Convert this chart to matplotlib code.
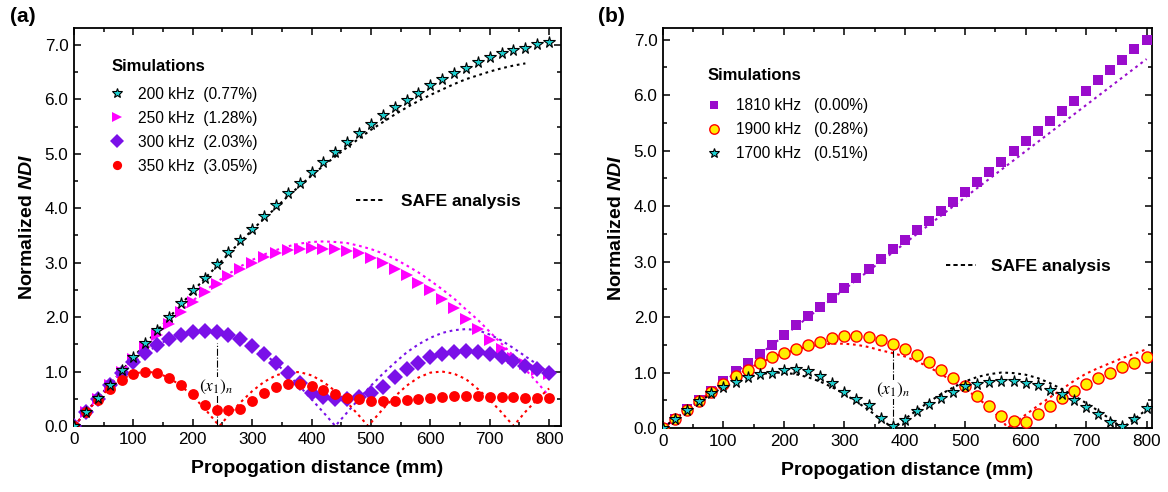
import numpy as np
import matplotlib
matplotlib.use('Agg')
import matplotlib.pyplot as plt
from matplotlib.lines import Line2D
from matplotlib.ticker import MultipleLocator, FormatStrFormatter

plt.rcParams['font.family'] = ['Liberation Sans', 'DejaVu Sans']
plt.rcParams['mathtext.fontset'] = 'custom'
plt.rcParams['mathtext.rm'] = 'Liberation Sans'
plt.rcParams['mathtext.it'] = 'Liberation Sans:italic'
plt.rcParams['mathtext.bf'] = 'Liberation Sans:bold'
plt.rcParams['mathtext.bfit'] = 'Liberation Sans:bold:italic'

# ---------------- data ----------------
dist = list(range(0, 801, 20))

# panel (a) simulations
sim_200 = [0, .25, .51, .76, 1.03, 1.27, 1.52, 1.77, 2.01, 2.26, 2.49, 2.72, 2.97, 3.2, 3.41,
           3.62, 3.85, 4.06, 4.28, 4.47, 4.66, 4.85, 5.04, 5.21, 5.39, 5.55, 5.71, 5.86, 5.99,
           6.12, 6.26, 6.38, 6.48, 6.58, 6.68, 6.77, 6.85, 6.91, 6.95, 7.02, 7.05]
sim_250 = [0, .25, .5, .75, .99, 1.23, 1.46, 1.68, 1.88, 2.1, 2.28, 2.46, 2.6, 2.75, 2.89, 3.0,
           3.1, 3.17, 3.23, 3.26, 3.27, 3.26, 3.25, 3.21, 3.17, 3.08, 3.0, 2.89, 2.77, 2.63,
           2.49, 2.33, 2.16, 1.97, 1.78, 1.58, 1.41, 1.25, 1.13, 1.03, .95]
sim_300 = [0, .25, .5, .75, .97, 1.17, 1.34, 1.48, 1.6, 1.68, 1.73, 1.75, 1.73, 1.68, 1.6, 1.47,
           1.33, 1.16, .97, .79, .61, .54, .5, .49, .54, .6, .72, .9, 1.04, 1.15, 1.26, 1.33,
           1.36, 1.38, 1.36, 1.33, 1.27, 1.19, 1.11, 1.04, .97]
sim_350 = [0, .25, .48, .68, .85, .95, 1.0, .97, .89, .76, .58, .39, .3, .29, .32, .46, .6, .72,
           .77, .77, .74, .66, .58, .52, .49, .46, .45, .45, .48, .49, .51, .53, .55, .56, .55,
           .54, .53, .53, .52, .52, .52]

# panel (a) SAFE analysis
safe_200_x = list(range(0, 761, 20))
safe_200 = [0, .25, .51, .76, 1.01, 1.26, 1.51, 1.75, 1.99, 2.23, 2.47, 2.71, 2.93, 3.16, 3.38,
            3.60, 3.81, 4.01, 4.22, 4.41, 4.60, 4.78, 4.95, 5.12, 5.28, 5.44, 5.58, 5.72, 5.85,
            5.97, 6.08, 6.18, 6.28, 6.37, 6.44, 6.51, 6.57, 6.62, 6.66]
safe_250 = [0, .25, .50, .75, .99, 1.23, 1.46, 1.69, 1.90, 2.10, 2.30, 2.48, 2.64, 2.79, 2.93,
            3.05, 3.15, 3.23, 3.30, 3.35, 3.38, 3.39, 3.38, 3.36, 3.31, 3.25, 3.17, 3.07, 2.95,
            2.82, 2.67, 2.51, 2.34, 2.14, 1.95, 1.73, 1.51, 1.29, 1.04, .80, .55]
safe_300 = [0, .25, .49, .73, .95, 1.15, 1.33, 1.48, 1.60, 1.69, 1.74, 1.76, 1.74, 1.69, 1.60,
            1.48, 1.33, 1.15, .95, .73, .49, .25, 0, .25, .5, .74, .96, 1.16, 1.35, 1.5, 1.62,
            1.71, 1.76, 1.78, 1.76, 1.68, 1.57, 1.43, 1.28, 1.13, .97]
safe_350_x = [0, 20, 40, 60, 80, 100, 120, 140, 160, 180, 200, 220, 240, 245, 260, 280, 300, 320,
              340, 360, 380, 400, 420, 440, 460, 480, 495, 500, 520, 540, 560, 580, 600, 620,
              640, 660, 680, 700, 720, 740, 760, 780, 800]
safe_350 = [0, .25, .49, .70, .86, .96, 1.0, .975, .885, .74, .55, .32, .06, 0, .19, .43, .64,
            .81, .93, .99, .99, .93, .81, .64, .43, .19, 0, .06, .31, .54, .74, .89, .98, 1.0,
            .96, .86, .68, .48, .25, 0, .26, .49, .69]

# panel (b) simulations
sim_1810 = [0, .17, .34, .5, .67, .84, 1.02, 1.18, 1.34, 1.5, 1.67, 1.85, 2.01, 2.19, 2.35, 2.53,
            2.7, 2.87, 3.05, 3.22, 3.39, 3.56, 3.73, 3.91, 4.08, 4.26, 4.44, 4.62, 4.8, 4.99,
            5.17, 5.35, 5.53, 5.71, 5.89, 6.07, 6.27, 6.45, 6.63, 6.83, 6.99]
sim_1900 = [0, .17, .33, .48, .65, .8, .93, 1.05, 1.18, 1.28, 1.36, 1.43, 1.49, 1.55, 1.62, 1.66,
            1.66, 1.64, 1.59, 1.51, 1.43, 1.31, 1.19, 1.05, .9, .75, .57, .39, .21, .13, .11,
            .26, .4, .54, .66, .79, .9, 1.0, 1.1, 1.17, 1.28]
sim_1700 = [0, .17, .33, .49, .63, .74, .83, .92, .97, 1.0, 1.05, 1.07, 1.02, .93, .81, .64, .52,
            .41, .18, .03, .15, .3, .43, .54, .64, .75, .79, .83, .85, .84, .82, .77, .69, .62,
            .5, .38, .25, .1, .03, .17, .36]

# panel (b) SAFE analysis
safe_1810_x = [0, 100, 200, 300, 400, 500, 600, 700, 800]
safe_1810 = [0, .83, 1.66, 2.5, 3.33, 4.16, 4.99, 5.82, 6.65]
safe_1900_x = [0, 20, 40, 60, 80, 100, 120, 140, 160, 180, 200, 220, 240, 260, 280, 300, 320, 340,
               360, 380, 400, 420, 440, 460, 480, 500, 520, 540, 560, 570, 580, 600, 620, 640,
               660, 680, 700, 720, 740, 760, 780, 800]
safe_1900 = [0, .17, .33, .49, .65, .80, .94, 1.07, 1.17, 1.27, 1.35, 1.41, 1.47, 1.5, 1.52, 1.52,
             1.5, 1.46, 1.40, 1.35, 1.29, 1.2, 1.1, .97, .84, .7, .55, .36, .16, 0, .08, .24, .40,
             .55, .70, .85, .98, 1.08, 1.17, 1.26, 1.34, 1.42]
safe_1700 = [0, .165, .325, .475, .614, .735, .837, .915, .969, .997, .997, .969, .915, .837, .735,
             .614, .475, .325, .165, 0, .16, .32, .47, .61, .73, .84, .92, .97, 1.0, .99, .96,
             .90, .81, .70, .58, .45, .31, .16, 0, .165, .33]

labels_a = ['200 kHz  (0.77%)', '250 kHz  (1.28%)', '300 kHz  (2.03%)', '350 kHz  (3.05%)']
labels_b = ['1810 kHz   (0.00%)', '1900 kHz   (0.28%)', '1700 kHz   (0.51%)']
xticks = [0, 100, 200, 300, 400, 500, 600, 700, 800]
yticks = [0.0, 1.0, 2.0, 3.0, 4.0, 5.0, 6.0, 7.0]

# ---------------- styles ----------------
CYAN = '#1fd0d0'
MAG = '#ff00ff'
PURP = '#7a10e8'
RED = '#ff0000'
VIOL = '#9a0ccc'
dot = (0, (1.3, 1.8))

fig = plt.figure(figsize=(11.68, 4.92), dpi=100)
axa = fig.add_axes([74 / 1168, 66 / 492, 487 / 1168, 398 / 492])
axb = fig.add_axes([663 / 1168, 64 / 492, 489 / 1168, 400 / 492])


def style_axis(ax, xmax, ymax):
    ax.set_xlim(0, xmax)
    ax.set_ylim(0, ymax)
    ax.set_xticks(xticks)
    ax.set_yticks(yticks)
    ax.xaxis.set_minor_locator(MultipleLocator(50))
    ax.yaxis.set_minor_locator(MultipleLocator(0.5))
    ax.yaxis.set_major_formatter(FormatStrFormatter('%.1f'))
    ax.tick_params(which='both', direction='in', top=True, right=True, width=1.1,
                   labelsize=12.3, pad=4)
    ax.tick_params(which='major', length=5)
    ax.tick_params(which='minor', length=3)
    for s in ax.spines.values():
        s.set_linewidth(1.3)
    ax.set_xlabel('Propogation distance (mm)', fontsize=14, fontweight='bold', labelpad=10)
    ax.set_ylabel(r'Normalized $\mathbfit{NDI}$', fontsize=14, fontweight='bold', labelpad=6)


def sim_legend(ax, handles, title_xy, leg_xy, hl):
    ax.text(title_xy[0], title_xy[1], 'Simulations', transform=ax.transAxes, ha='left',
            va='center', fontsize=12, fontweight='bold')
    leg = ax.legend(handles=handles, loc='upper left', bbox_to_anchor=leg_xy,
                    frameon=False, fontsize=11.2, borderpad=0, borderaxespad=0,
                    handlelength=hl, handletextpad=1.05, labelspacing=0.58,
                    markerscale=0.85)
    ax.add_artist(leg)


def safe_legend(ax, xy):
    safe_h = Line2D([], [], color='black', lw=1.4, ls=(0, (2.2, 1.6)))
    ax.legend(handles=[safe_h], labels=['SAFE analysis'], loc='center left',
              bbox_to_anchor=xy, frameon=False, borderpad=0, borderaxespad=0,
              handlelength=1.7, handletextpad=0.9, prop={'weight': 'bold', 'size': 12.5})


# ---- panel (a) ----
ax = axa
ax.plot(safe_200_x, safe_200, color='black', lw=1.5, ls=dot, zorder=2)
ax.plot(dist, safe_250, color=MAG, lw=1.5, ls=dot, zorder=2)
ax.plot(dist, safe_300, color=PURP, lw=1.5, ls=dot, zorder=2)
ax.plot(safe_350_x, safe_350, color=RED, lw=1.5, ls=dot, zorder=2)

h1, = ax.plot(dist, sim_200, ls='none', marker='*', ms=8.5, mfc=CYAN, mec='black', mew=0.8,
              label=labels_a[0], zorder=6)
h2, = ax.plot(dist, sim_250, ls='none', marker='>', ms=8, mfc=MAG, mec=MAG, mew=0,
              label=labels_a[1], zorder=4)
h3, = ax.plot(dist, sim_300, ls='none', marker='D', ms=7.8, mfc=PURP, mec=PURP, mew=0,
              label=labels_a[2], zorder=4)
h4, = ax.plot(dist, sim_350, ls='none', marker='o', ms=7.8, mfc=RED, mec=RED, mew=0,
              label=labels_a[3], zorder=5)
ax.plot([240, 240], [0, 1.52], color='black', lw=0.8, ls='-.', zorder=3)
ax.text(240, 0.72, r'$(x_1)_n$', math_fontfamily='stix', fontsize=12.5, ha='center',
        va='center', zorder=3.5, bbox=dict(fc='white', ec='none', pad=0.3))
style_axis(ax, 820, 7.31)
sim_legend(ax, [h1, h2, h3, h4], (0.0774, 0.9028), (0.0774, 0.8525), 0.65)
safe_legend(ax, (0.579, 0.5636))
fig.text(10 / 1168, 1 - 17 / 492, '(a)', fontsize=15, fontweight='bold', va='center')

# ---- panel (b) ----
ax = axb
ax.plot(safe_1810_x, safe_1810, color=VIOL, lw=1.5, ls=dot, zorder=2)
ax.plot(safe_1900_x, safe_1900, color=RED, lw=1.5, ls=dot, zorder=2)
ax.plot(dist, safe_1700, color='black', lw=1.5, ls=dot, zorder=2)
g1, = ax.plot(dist, sim_1810, ls='none', marker='s', ms=7, mfc=VIOL, mec=VIOL, mew=0,
              label=labels_b[0], zorder=4)
g2, = ax.plot(dist, sim_1900, ls='none', marker='o', ms=8, mfc='#ffee00', mec=RED, mew=1.0,
              label=labels_b[1], zorder=5)
g3, = ax.plot(dist, sim_1700, ls='none', marker='*', ms=8.5, mfc=CYAN, mec='black', mew=0.8,
              label=labels_b[2], zorder=6)
ax.plot([380, 380], [0, 1.49], color='black', lw=0.8, ls='-.', zorder=3)
ax.text(380, 0.69, r'$(x_1)_n$', math_fontfamily='stix', fontsize=12.5, ha='center',
        va='center', zorder=3.5, bbox=dict(fc='white', ec='none', pad=0.3))
style_axis(ax, 809, 7.21)
sim_legend(ax, [g1, g2, g3], (0.092, 0.8825), (0.092, 0.8248), 0.77)
safe_legend(ax, (0.579, 0.405))
fig.text(598 / 1168, 1 - 17 / 492, '(b)', fontsize=15, fontweight='bold', va='center')

fig.savefig('out.png', dpi=100)
